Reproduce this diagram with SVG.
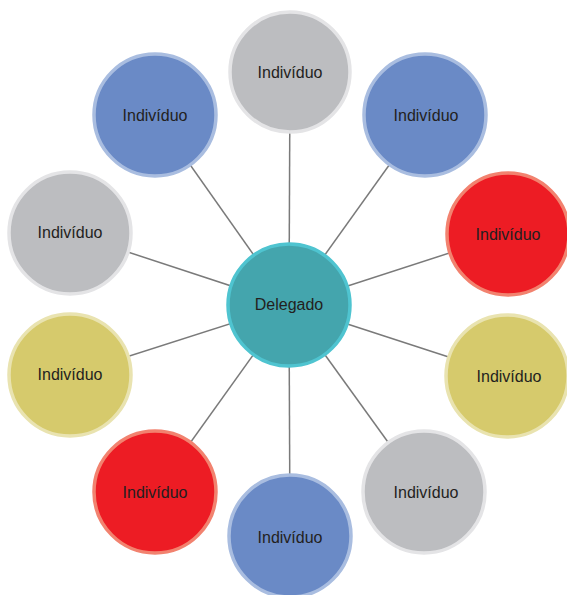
<svg xmlns="http://www.w3.org/2000/svg" width="567" height="595" viewBox="0 0 567 595">
<style>
.c{stroke-width:3.5}
.blue{fill:#6a8ac6;stroke:#a9bde0}
.gray{fill:#bcbdc0;stroke:#e4e4e6}
.red{fill:#ed1c24;stroke:#f2826f}
.yel{fill:#d6ca6c;stroke:#e9e3b0}
.del{fill:#44a5ad;stroke:#4fc4d0}
text{font-family:"Liberation Sans",Arial,sans-serif;font-size:16px;fill:#231f20;text-anchor:middle;dominant-baseline:central}
.con line{stroke:#7a7a7a;stroke-width:1.5}
</style>
<rect width="567" height="595" fill="#fff"/>
<g class="con">
<line x1="289" y1="305" x2="290" y2="72"/>
<line x1="289" y1="305" x2="425" y2="115"/>
<line x1="289" y1="305" x2="508" y2="234"/>
<line x1="289" y1="305" x2="507" y2="376"/>
<line x1="289" y1="305" x2="424" y2="492"/>
<line x1="289" y1="305" x2="290" y2="536"/>
<line x1="289" y1="305" x2="155" y2="492"/>
<line x1="289" y1="305" x2="70" y2="375"/>
<line x1="289" y1="305" x2="70" y2="233"/>
<line x1="289" y1="305" x2="155" y2="115"/>
</g>
<g id="n1"><circle class="c gray" cx="290" cy="72" r="60"/><text x="290" y="72">Indivíduo</text></g>
<g id="n2"><circle class="c blue" cx="425" cy="115" r="61"/><text x="426" y="115">Indivíduo</text></g>
<g id="n3"><circle class="c red" cx="508" cy="234" r="61"/><text x="508" y="234">Indivíduo</text></g>
<g id="n4"><circle class="c yel" cx="507" cy="376" r="61"/><text x="509" y="376">Indivíduo</text></g>
<g id="n5"><circle class="c gray" cx="424" cy="492" r="61"/><text x="426" y="492">Indivíduo</text></g>
<g id="n6"><circle class="c blue" cx="290" cy="536" r="61"/><text x="290" y="537">Indivíduo</text></g>
<g id="n7"><circle class="c red" cx="155" cy="492" r="61"/><text x="155" y="492">Indivíduo</text></g>
<g id="n8"><circle class="c yel" cx="70" cy="375" r="61"/><text x="70" y="374">Indivíduo</text></g>
<g id="n9"><circle class="c gray" cx="70" cy="233" r="61"/><text x="70" y="232">Indivíduo</text></g>
<g id="n10"><circle class="c blue" cx="155" cy="115" r="61"/><text x="155" y="115">Indivíduo</text></g>
<g id="center"><circle class="c del" cx="289" cy="305" r="61"/><text x="289" y="304">Delegado</text></g>
</svg>
